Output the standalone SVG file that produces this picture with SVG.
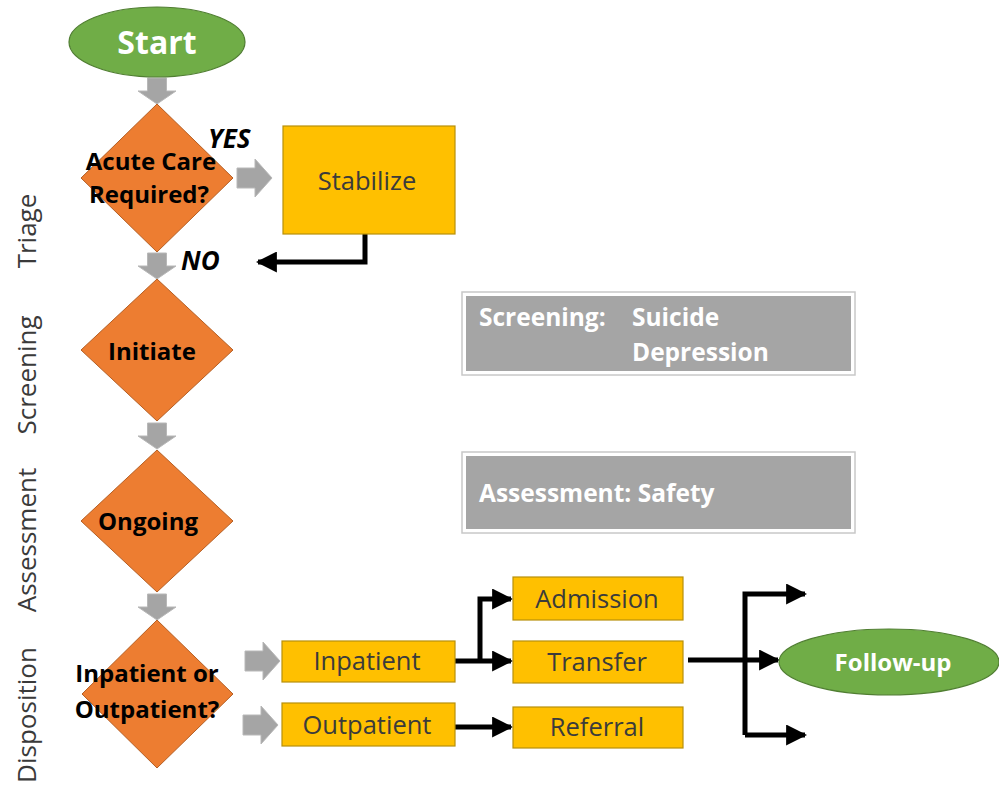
<svg xmlns="http://www.w3.org/2000/svg" width="999" height="790" viewBox="0 0 999 790">
  <defs>
    <style>
      .lane { font-family: "Open Sans", "Noto Sans", sans-serif; font-size: 26px; fill: #3a3a3a; text-anchor: middle; }
      .diamond { fill: #ED7D31; stroke: #B55F24; stroke-width: 1; }
      .dtext { font-family: "Open Sans", "Noto Sans", sans-serif; font-weight: bold; font-size: 24px; fill: #000; text-anchor: middle; }
      .oval { fill: #70AD47; stroke: #507E32; stroke-width: 1.2; }
      .otext { font-family: "Open Sans", "Noto Sans", sans-serif; font-weight: bold; fill: #fff; text-anchor: middle; }
      .box { fill: #FFC000; stroke: #B8900A; stroke-width: 1.2; }
      .btext { font-family: "Open Sans", "Noto Sans", sans-serif; font-size: 25.5px; fill: #3b3b3b; text-anchor: middle; }
      .note-outer { fill: #fff; stroke: #c8c8c8; stroke-width: 1.5; }
      .note { fill: #A5A5A5; }
      .ntext { font-family: "Open Sans", "Noto Sans", sans-serif; font-weight: bold; font-size: 24.5px; fill: #fff; }
      .block { fill: #A5A5A5; stroke: #B8B8B8; stroke-width: 1; }
      .line { fill: none; stroke: #000; stroke-width: 5; }
      .yn { font-family: "Open Sans", "Noto Sans", sans-serif; font-weight: bold; font-style: italic; font-size: 26px; fill: #000; }
    </style>
    <marker id="head" viewBox="0 0 10 10" refX="9" refY="5" markerWidth="4.2" markerHeight="4.2" orient="auto" markerUnits="strokeWidth">
      <path d="M0,0 L10,5 L0,10 z" fill="#000"/>
    </marker>
    <!-- block arrows pointing down and right -->
    <path id="down" d="M-9.5,0 H9.5 V13 H19 L0,26 L-19,13 H-9.5 Z"/>
    <path id="right" d="M0,-10 H18 V-19 L35,0 L18,19 V10 H0 Z"/>
  </defs>

  <rect width="999" height="790" fill="#fff"/>

  <!-- swim-lane captions -->
  <g id="lanes">
    <text class="lane" transform="translate(36,231) rotate(-90)">Triage</text>
    <text class="lane" transform="translate(36,375) rotate(-90)">Screening</text>
    <text class="lane" transform="translate(36,540) rotate(-90)">Assessment</text>
    <text class="lane" transform="translate(36,715) rotate(-90)" font-size="25">Disposition</text>
  </g>

  <!-- connectors -->
  <g id="connectors">
    <use href="#down" class="block" x="157" y="78"/>
    <use href="#down" class="block" x="157" y="253"/>
    <use href="#down" class="block" x="157" y="423"/>
    <use href="#down" class="block" x="157" y="594"/>
    <use href="#right" class="block" x="237" y="178"/>
    <use href="#right" class="block" x="245" y="661"/>
    <use href="#right" class="block" x="243" y="725"/>
    <path class="line" d="M365,234 V262 H258" marker-end="url(#head)"/>
    <path class="line" d="M455,661 H511" marker-end="url(#head)"/>
    <path class="line" d="M480,661 V599 H511" marker-end="url(#head)"/>
    <path class="line" d="M455,727 H511" marker-end="url(#head)"/>
    <path class="line" d="M688,660 H778" marker-end="url(#head)"/>
    <path class="line" d="M745,735 V594 H805" marker-end="url(#head)"/>
    <path class="line" d="M745,735 H805" marker-end="url(#head)"/>
    <text class="yn" x="208" y="148">YES</text>
    <text class="yn" x="181" y="270">NO</text>
  </g>

  <g id="start">
    <ellipse class="oval" cx="157" cy="42" rx="88" ry="35"/>
    <text class="otext" x="157" y="54" font-size="32" font-weight="600">Start</text>
  </g>

  <g id="acute-care">
    <polygon class="diamond" points="157,104 233,178 157,252 81,178"/>
    <text class="dtext" x="151" y="170">Acute Care</text>
    <text class="dtext" x="149" y="203">Required?</text>
  </g>

  <g id="stabilize">
    <rect class="box" x="283" y="126" width="172" height="108"/>
    <text class="btext" x="367" y="190">Stabilize</text>
  </g>

  <g id="initiate">
    <polygon class="diamond" points="157,279 233,350 157,421 81,350"/>
    <text class="dtext" x="152" y="360">Initiate</text>
  </g>

  <g id="ongoing">
    <polygon class="diamond" points="157,450 233,521 157,592 81,521"/>
    <text class="dtext" x="148" y="530">Ongoing</text>
  </g>

  <g id="disposition">
    <polygon class="diamond" points="157,620 233,694 157,768 82,694"/>
    <text class="dtext" x="147" y="682">Inpatient or</text>
    <text class="dtext" x="147" y="718">Outpatient?</text>
  </g>

  <g id="screening-note">
    <rect class="note-outer" x="462" y="292" width="393" height="83"/>
    <rect class="note" x="466" y="296" width="385" height="75"/>
    <text class="ntext" x="479" y="326">Screening:</text>
    <text class="ntext" x="632" y="326">Suicide</text>
    <text class="ntext" x="632" y="361">Depression</text>
  </g>

  <g id="assessment-note">
    <rect class="note-outer" x="462" y="452" width="393" height="81"/>
    <rect class="note" x="466" y="456" width="385" height="73"/>
    <text class="ntext" x="479" y="502">Assessment: Safety</text>
  </g>

  <g id="inpatient">
    <rect class="box" x="282" y="641" width="173" height="41"/>
    <text class="btext" x="367" y="670">Inpatient</text>
  </g>

  <g id="outpatient">
    <rect class="box" x="282" y="703" width="173" height="43"/>
    <text class="btext" x="367" y="734">Outpatient</text>
  </g>

  <g id="admission">
    <rect class="box" x="513" y="577" width="170" height="43"/>
    <text class="btext" x="597" y="608">Admission</text>
  </g>

  <g id="transfer">
    <rect class="box" x="513" y="641" width="170" height="42"/>
    <text class="btext" x="597" y="671">Transfer</text>
  </g>

  <g id="referral">
    <rect class="box" x="513" y="707" width="170" height="41"/>
    <text class="btext" x="597" y="736">Referral</text>
  </g>

  <g id="follow-up">
    <ellipse class="oval" cx="889" cy="662" rx="110" ry="33"/>
    <text class="otext" x="893" y="671" font-size="24">Follow-up</text>
  </g>
</svg>
